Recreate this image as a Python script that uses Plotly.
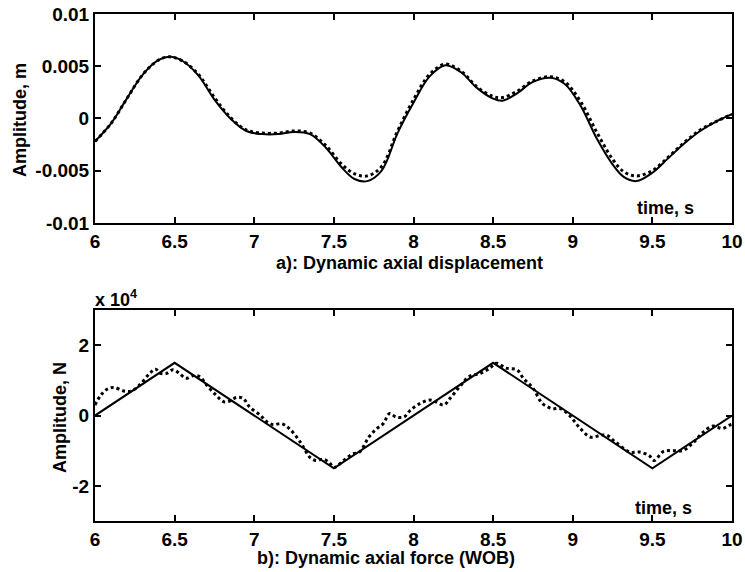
import plotly.graph_objects as go

# ---------------- data ----------------
# a) dynamic axial displacement (m)
t_disp = [6.0, 6.1, 6.2, 6.3, 6.4, 6.47, 6.55, 6.65, 6.75, 6.85, 6.95, 7.05, 7.15, 7.25,
          7.35, 7.45, 7.55, 7.63, 7.71, 7.8, 7.9, 8.0, 8.1, 8.2, 8.3, 8.4, 8.5, 8.56,
          8.65, 8.75, 8.86, 8.95, 9.05, 9.15, 9.25, 9.32, 9.4, 9.5, 9.6, 9.7, 9.8, 9.9, 10.0]
disp_solid = [-0.0022, -0.0005, 0.0019, 0.0042, 0.0056, 0.0059, 0.0055, 0.0041, 0.0018,
              0.0000, -0.0012, -0.0015, -0.0015, -0.0013, -0.0015, -0.0028, -0.0047,
              -0.0058, -0.0060, -0.0050, -0.0014, 0.0015, 0.0040, 0.0051, 0.0044, 0.0029,
              0.0019, 0.0017, 0.0024, 0.0035, 0.0039, 0.0033, 0.0012, -0.0019, -0.0044,
              -0.0056, -0.0060, -0.0052, -0.0038, -0.0024, -0.0012, -0.0003, 0.0004]
disp_dotted = [-0.0022, -0.0005, 0.0019, 0.0042, 0.0056, 0.0059, 0.0055, 0.0042, 0.0020,
               0.0001, -0.0011, -0.0014, -0.0014, -0.0012, -0.0014, -0.0026, -0.0044,
               -0.0053, -0.0055, -0.0046, -0.0012, 0.0018, 0.0042, 0.0052, 0.0045, 0.0030,
               0.0021, 0.0020, 0.0026, 0.0036, 0.0040, 0.0035, 0.0016, -0.0013, -0.0039,
               -0.0051, -0.0055, -0.0050, -0.0037, -0.0023, -0.0011, -0.0003, 0.0004]

# b) dynamic axial force (N)
t_force_ref = [6.0, 6.5, 7.5, 8.5, 9.5, 10.0]
force_ref = [0, 15000, -15000, 15000, -15000, 0]

t_force = [6.00, 6.04, 6.08, 6.12, 6.18, 6.23, 6.28, 6.34, 6.38, 6.41, 6.45, 6.49, 6.53,
           6.57, 6.62, 6.66, 6.70, 6.76, 6.81, 6.85, 6.89, 6.93, 6.97, 7.04, 7.08, 7.12,
           7.17, 7.22, 7.29, 7.35, 7.39, 7.43, 7.47, 7.50, 7.56, 7.62, 7.66, 7.72, 7.77,
           7.81, 7.85, 7.89, 7.94, 7.98, 8.04, 8.10, 8.14, 8.19, 8.23, 8.29, 8.35, 8.42,
           8.48, 8.52, 8.58, 8.65, 8.69, 8.75, 8.81, 8.87, 8.92, 8.98, 9.04, 9.11, 9.17,
           9.21, 9.27, 9.36, 9.42, 9.48, 9.51, 9.57, 9.63, 9.69, 9.75, 9.82, 9.88, 9.94,
           9.98, 10.0]
force_meas = [3000, 6000, 7600, 8000, 7000, 7000, 8700, 11800, 13200, 12000, 12000, 13000,
              12000, 10600, 11400, 11000, 8700, 5800, 3900, 4200, 5200, 4900, 2500, 0,
              -1800, -2600, -2300, -3700, -7600, -11900, -12800, -12400, -13300, -14800,
              -12800, -10900, -10400, -6100, -3700, -2300, 600, -400, -400, 1500, 3400,
              4400, 3900, 3000, 4900, 8200, 11100, 12000, 13500, 14900, 13500, 13000,
              10600, 7800, 3400, 2000, 2000, 0, -3300, -6100, -5700, -5500, -7600,
              -10400, -10400, -11400, -12800, -10200, -10000, -10000, -8000, -4700,
              -3000, -3700, -2800, -2500]

x_ticks = [6, 6.5, 7, 7.5, 8, 8.5, 9, 9.5, 10]
x_ticktext = ["6", "6.5", "7", "7.5", "8", "8.5", "9", "9.5", "10"]
y1_ticks = [-0.01, -0.005, 0, 0.005, 0.01]
y1_ticktext = ["-0.01", "-0.005", "0", "0.005", "0.01"]
y2_ticks = [-20000, 0, 20000]
y2_ticktext = ["-2", "0", "2"]

# ---------------- figure ----------------
FONT = "Liberation Sans, Arial, Helvetica, sans-serif"
fig = go.Figure()

fig.add_trace(go.Scatter(x=t_disp, y=disp_solid, mode="lines", line_shape="spline",
                         line=dict(color="black", width=2), xaxis="x", yaxis="y",
                         showlegend=False))
fig.add_trace(go.Scatter(x=t_disp, y=disp_dotted, mode="lines", line_shape="spline",
                         line=dict(color="black", width=3, dash="dot"), xaxis="x", yaxis="y",
                         showlegend=False))
fig.add_trace(go.Scatter(x=t_force_ref, y=force_ref, mode="lines",
                         line=dict(color="black", width=2), xaxis="x2", yaxis="y2",
                         showlegend=False))
fig.add_trace(go.Scatter(x=t_force, y=force_meas, mode="lines", line_shape="spline",
                         line=dict(color="black", width=3, dash="dot"), xaxis="x2", yaxis="y2",
                         showlegend=False))

axis_common = dict(showline=True, linewidth=2, linecolor="black", mirror="ticks",
                   ticks="inside", ticklen=6, tickwidth=2, tickcolor="black",
                   showgrid=False, zeroline=False, automargin=False,
                   tickfont=dict(family=FONT, size=19, color="black", weight="bold"))

fig.update_layout(
    template="none",
    width=745, height=572,
    margin=dict(l=95, r=13, t=14, b=51, autoexpand=False),
    paper_bgcolor="white", plot_bgcolor="white",
    xaxis=dict(domain=[0, 1], anchor="y", range=[6, 10], tickvals=x_ticks,
               ticktext=x_ticktext, **axis_common),
    yaxis=dict(domain=[0.588, 1], anchor="x", range=[-0.01, 0.01], tickvals=y1_ticks,
               ticktext=y1_ticktext, **axis_common),
    xaxis2=dict(domain=[0, 1], anchor="y2", range=[6, 10], tickvals=x_ticks,
                ticktext=x_ticktext, **axis_common),
    yaxis2=dict(domain=[0, 0.416], anchor="x2", range=[-30000, 30000], tickvals=y2_ticks,
                ticktext=y2_ticktext, **axis_common),
)

def ann(text, x, y, size=18, angle=0, xanchor="center"):
    fig.add_annotation(text=text, x=x, y=y, xref="paper", yref="paper",
                       showarrow=False, textangle=angle, xanchor=xanchor, yanchor="middle",
                       font=dict(family=FONT, size=size, color="black", weight="bold"))

ann("Amplitude, m", -0.1177, 0.791, angle=-90)
ann("Amplitude, N", -0.055, 0.205, angle=-90)
ann("x 10<sup>4</sup>", -0.003, 0.438, xanchor="left")
ann("time, s", 0.895, 0.617)
ann("time, s", 0.893, 0.0256)
ann("a): Dynamic axial displacement", 0.493, 0.509)
ann("b): Dynamic axial force (WOB)", 0.457, -0.073)

fig.write_html("out.html", config={"displayModeBar": False},
               post_script="document.body.style.margin='0';document.body.style.padding='0';")
